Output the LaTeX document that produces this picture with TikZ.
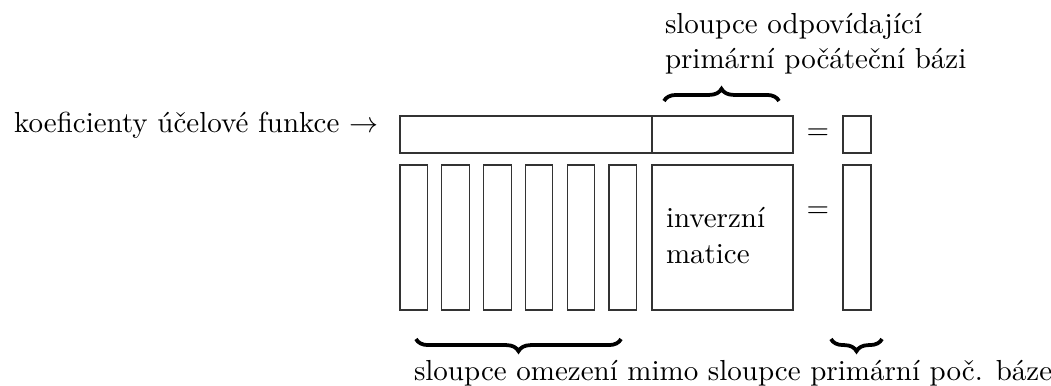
\documentclass[tikz,border=0pt]{standalone}
\usetikzlibrary{decorations.pathreplacing}
\begin{document}
\begin{tikzpicture}[x=0.345pt,y=-0.345pt,
  cell/.style={draw=black!80,line width=0.4pt},
  lbl/.style={inner sep=0pt,outer sep=0pt},
  brc/.style={decorate,line width=1.3pt,
    decoration={brace,amplitude=4.2pt}}]
\useasboundingbox (0,0) rectangle (1051,385);

% objective row: coefficients of the objective function
\draw[cell] (400,116) rectangle (793,153);
\draw[cell] (652,116) -- (652,153);
\draw[cell] (843,116) rectangle (871,153);

% constraint columns
\foreach \i in {0,...,5}
  \draw[cell] ({400+41.8*\i},165) rectangle ({427.5+41.8*\i},310);
% inverse matrix block and right-hand side
\draw[cell] (652,165) rectangle (793,310);
\draw[cell] (843,165) rectangle (871,310);

% labels
\node[lbl,anchor=base east] (obj) at (378,132) {koeficienty účelové funkce $\rightarrow$};
\node[lbl] (eq1) at (818,134) {$=$};
\node[lbl] (eq2) at (818,212) {$=$};
\node[lbl,anchor=base west] (inv1) at (666,227) {inverzní};
\node[lbl,anchor=base west] (inv2) at (666,263) {matice};
\node[lbl,anchor=base west] (top1) at (665,33) {sloupce odpovídající};
\node[lbl,anchor=base west] (top2) at (665,68) {primární počáteční bázi};
\node[lbl,anchor=base west] (bot) at (414,380) {sloupce omezení mimo sloupce primární poč. báze};

% braces
\coordinate (b1l) at (664,101);  \coordinate (b1r) at (779,101);
\coordinate (b2l) at (416,339);  \coordinate (b2r) at (621,339);
\coordinate (b3l) at (831,339);  \coordinate (b3r) at (882,339);
\draw[brc] (b1l) -- (b1r);
\draw[brc] (b2r) -- (b2l);
\draw[brc] (b3r) -- (b3l);
\end{tikzpicture}
\end{document}
